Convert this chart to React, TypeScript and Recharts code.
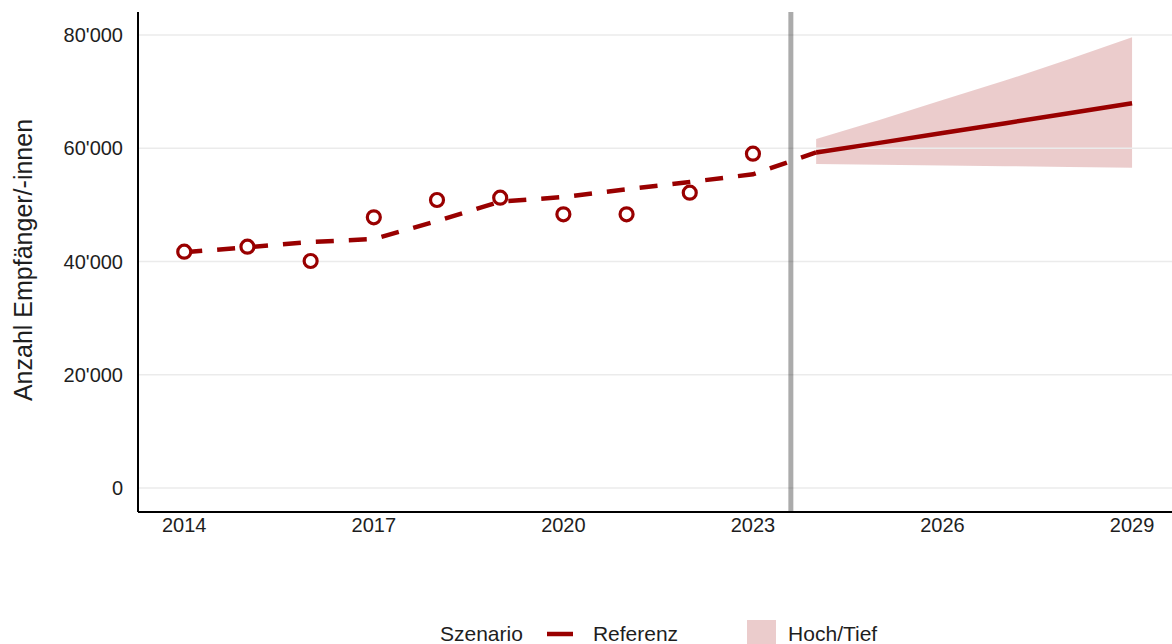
import React from "react";
import {
  ComposedChart,
  Line,
  Area,
  XAxis,
  YAxis,
  ReferenceLine,
  Legend,
  Label,
} from "recharts";

const YEARS = [2014, 2015, 2016, 2017, 2018, 2019, 2020, 2021, 2022, 2023, 2024, 2025, 2026, 2027, 2028, 2029];
// observed values 2014-2023
const OBSERVED = [41730, 42610, 40090, 47810, 50860, 51270, 48330, 48330, 52150, 59040];
// smoothed trend 2014-2024 (dashed)
const TREND = [41630, 42510, 43440, 43970, 47150, 50560, 51390, 52750, 54040, 55400, 59250];
// scenario 2024-2029
const FORECAST_START = 2024;
const REFERENZ = [59250, 60950, 62690, 64430, 66180, 67940];
const BAND_HIGH = [61630, 65000, 68500, 72000, 75700, 79590];
const BAND_LOW = [57220, 57100, 56970, 56840, 56700, 56570];
const CUTOFF = 2023.6;

const X_TICKS = [2014, 2017, 2020, 2023, 2026, 2029];
const Y_TICKS = [0, 20000, 40000, 60000, 80000];

const RED = "#990000";
const FONT = "'Liberation Sans', Arial, sans-serif";
const TEXT = "#1e1e1e";

const data = YEARS.map((year, i) => {
  const f = year - FORECAST_START;
  return {
    year,
    observed: OBSERVED[i] ?? null,
    trend: TREND[i] ?? null,
    referenz: f >= 0 ? REFERENZ[f] : null,
    band: f >= 0 ? [BAND_LOW[f], BAND_HIGH[f]] : null,
  };
});

const fmt = (v: number) => String(v).replace(/\B(?=(\d{3})+(?!\d))/g, "'");

const renderLegend = () => (
  <div
    style={{
      display: "flex",
      alignItems: "center",
      height: 34,
      boxSizing: "border-box",
      paddingTop: 14,
      paddingLeft: 440,
      fontFamily: FONT,
      fontSize: 21,
      color: TEXT,
      whiteSpace: "nowrap",
    }}
  >
    <span>Szenario</span>
    <svg width={26} height={6} style={{ marginLeft: 24 }}>
      <line x1={0} y1={3} x2={26} y2={3} stroke={RED} strokeWidth={4.5} />
    </svg>
    <span style={{ marginLeft: 20 }}>Referenz</span>
    <span
      style={{
        marginLeft: 69,
        width: 29,
        height: 29,
        flex: "none",
        background: "rgba(153,0,0,0.2)",
      }}
    />
    <span style={{ marginLeft: 12 }}>Hoch/Tief</span>
  </div>
);

export default function App() {
  return (
    <div style={{ position: "absolute", left: 0, top: 0, background: "#fff" }}>
      <ComposedChart
        width={1172}
        height={644}
        data={data}
        margin={{ top: 12, right: 0, bottom: 0, left: 0 }}
      >
        <XAxis
          type="number"
          dataKey="year"
          domain={[2013.268, 2029.632]}
          allowDataOverflow
          ticks={X_TICKS}
          height={98}
          tickSize={0}
          tickMargin={6}
          tickLine={false}
          axisLine={{ stroke: "#000", strokeWidth: 2 }}
          tick={{ fill: TEXT, fontSize: 20, fontFamily: FONT }}
        />
        <YAxis
          type="number"
          domain={[-4238, 84062]}
          allowDataOverflow
          ticks={Y_TICKS}
          width={138}
          tickSize={0}
          tickMargin={15}
          tickLine={false}
          tickFormatter={fmt}
          axisLine={{ stroke: "#000", strokeWidth: 2 }}
          tick={{ fill: TEXT, fontSize: 20, fontFamily: FONT }}
        >
          <Label
            content={({ viewBox }: any) => {
              const cx = 23;
              const cy = viewBox.y + viewBox.height / 2 - 2;
              return (
                <text
                  x={cx}
                  y={cy}
                  transform={`rotate(-90 ${cx} ${cy})`}
                  textAnchor="middle"
                  dominantBaseline="central"
                  fill={TEXT}
                  fontSize={25}
                  fontFamily={FONT}
                >
                  Anzahl Empfänger/-innen
                </text>
              );
            }}
          />
        </YAxis>
        {/* horizontal grid at the y ticks only */}
        {Y_TICKS.map((t) => (
          <ReferenceLine key={t} y={t} stroke="#ebebeb" strokeWidth={1.6} />
        ))}
        <Legend verticalAlign="bottom" height={34} content={renderLegend} />
        <Area
          dataKey="band"
          stroke="none"
          fill={RED}
          fillOpacity={0.2}
          isAnimationActive={false}
          legendType="none"
          activeDot={false}
        />
        <Line
          dataKey="trend"
          stroke={RED}
          strokeWidth={4.5}
          strokeDasharray="18 15"
          dot={false}
          activeDot={false}
          isAnimationActive={false}
        />
        <Line
          dataKey="referenz"
          stroke={RED}
          strokeWidth={4.5}
          dot={false}
          activeDot={false}
          isAnimationActive={false}
        />
        <ReferenceLine x={CUTOFF} stroke="#000" strokeOpacity={0.33} strokeWidth={5} />
        <Line
          dataKey="observed"
          stroke="none"
          dot={{ r: 6.5, stroke: RED, strokeWidth: 3.2, fill: "#fff" }}
          activeDot={false}
          isAnimationActive={false}
        />
      </ComposedChart>
    </div>
  );
}
